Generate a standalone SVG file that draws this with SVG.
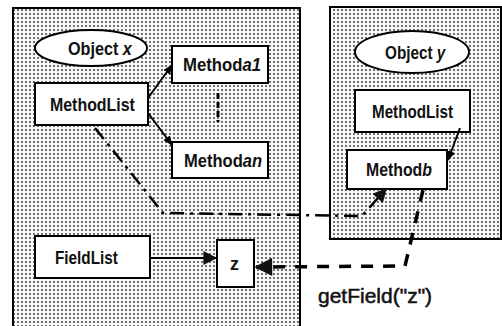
<svg xmlns="http://www.w3.org/2000/svg" width="502" height="326" viewBox="0 0 502 326">
<defs>
<pattern id="dots" width="4" height="4" patternUnits="userSpaceOnUse">
<rect width="4" height="4" fill="#f8f8f8"/>
<circle cx="2" cy="2" r="1" fill="#444"/>
</pattern>
<marker id="ah" viewBox="0 0 10 10" refX="9" refY="5" markerWidth="10" markerHeight="10" markerUnits="userSpaceOnUse" orient="auto">
<path d="M0,1 L10,5 L0,9 Z" fill="#000"/>
</marker>
<marker id="ahb" viewBox="0 0 10 10" refX="9" refY="5" markerWidth="22" markerHeight="18" markerUnits="userSpaceOnUse" orient="auto">
<path d="M0,0 L10,5 L0,10 Z" fill="#111"/>
</marker>
<marker id="ahm" viewBox="0 0 10 10" refX="9" refY="5" markerWidth="16" markerHeight="14" markerUnits="userSpaceOnUse" orient="auto">
<path d="M0,0 L10,5 L0,10 Z" fill="#111"/>
</marker>
</defs>
<style>
.panel{fill:url(#dots);stroke:#000;stroke-width:2}
.box{fill:#fff;stroke:#000;stroke-width:2}
.t{font-family:"Liberation Sans",Arial,sans-serif;font-weight:bold;font-size:18px;fill:#111}
.it{font-style:italic}
.conn{fill:none;stroke:#000}
</style>
<g id="panelX"><rect class="panel" x="13" y="8" width="287" height="330"/></g>
<g id="panelY"><rect class="panel" x="330" y="7" width="171" height="232"/></g>
<g id="objectX"><ellipse class="box" cx="91" cy="48" rx="56" ry="18"/><text class="t" transform="translate(68,55) scale(0.9,1)">Object <tspan class="it">x</tspan></text></g>
<g id="methodListX"><rect class="box" x="35" y="83" width="113" height="42"/><text class="t" transform="translate(50,111) scale(0.885,1)">MethodList</text></g>
<g id="methodA1"><rect class="box" x="172" y="46" width="96" height="37"/><text class="t" transform="translate(183,71) scale(0.93,1)">Method<tspan class="it">a1</tspan></text></g>
<g id="methodAn"><rect class="box" x="172" y="142" width="96" height="36"/><text class="t" transform="translate(184,167) scale(0.92,1)">Method<tspan class="it">an</tspan></text></g>
<g id="fieldList"><rect class="box" x="35" y="236" width="115" height="42"/><text class="t" transform="translate(55,264) scale(0.85,1)">FieldList</text></g>
<g id="fieldZ"><rect class="box" x="217" y="240" width="37" height="47"/><text class="t" x="230" y="270">z</text></g>
<g id="objectY"><ellipse class="box" cx="412" cy="52" rx="57" ry="21"/><text class="t" transform="translate(385,59) scale(0.85,1)">Object <tspan class="it">y</tspan></text></g>
<g id="methodListY"><rect class="box" x="355" y="90" width="115" height="42"/><text class="t" transform="translate(372,118) scale(0.845,1)">MethodList</text></g>
<g id="methodB"><rect class="box" x="347" y="150" width="100" height="39"/><text class="t" transform="translate(366,176) scale(0.88,1)">Method<tspan class="it">b</tspan></text></g>
<g id="label"><text transform="translate(318,303) scale(1.05,1)" style="font-family:'Liberation Sans',Arial,sans-serif;font-size:20px;fill:#111;stroke:#111;stroke-width:0.5">getField("z")</text></g>
<g id="connectors">
<line class="conn" x1="148" y1="98" x2="172" y2="65" stroke-width="2" marker-end="url(#ah)"/>
<line class="conn" x1="148" y1="113" x2="172" y2="145" stroke-width="2" marker-end="url(#ah)"/>
<line class="conn" x1="218" y1="93" x2="218" y2="122" stroke-width="3" stroke-dasharray="6,3"/>
<line class="conn" x1="460" y1="128" x2="448" y2="160" stroke-width="2" marker-end="url(#ah)"/>
<line class="conn" x1="150" y1="258" x2="216" y2="258" stroke-width="2" marker-end="url(#ahm)"/>
<polyline class="conn" points="95,128 163,213 362,216 386,189" stroke-width="2.5" stroke-dasharray="14,6,3,6" marker-end="url(#ahm)"/>
<polyline class="conn" points="423,190 405,266 256,267" stroke-width="3.5" stroke-dasharray="12,10" marker-end="url(#ahb)"/>
</g>
</svg>
